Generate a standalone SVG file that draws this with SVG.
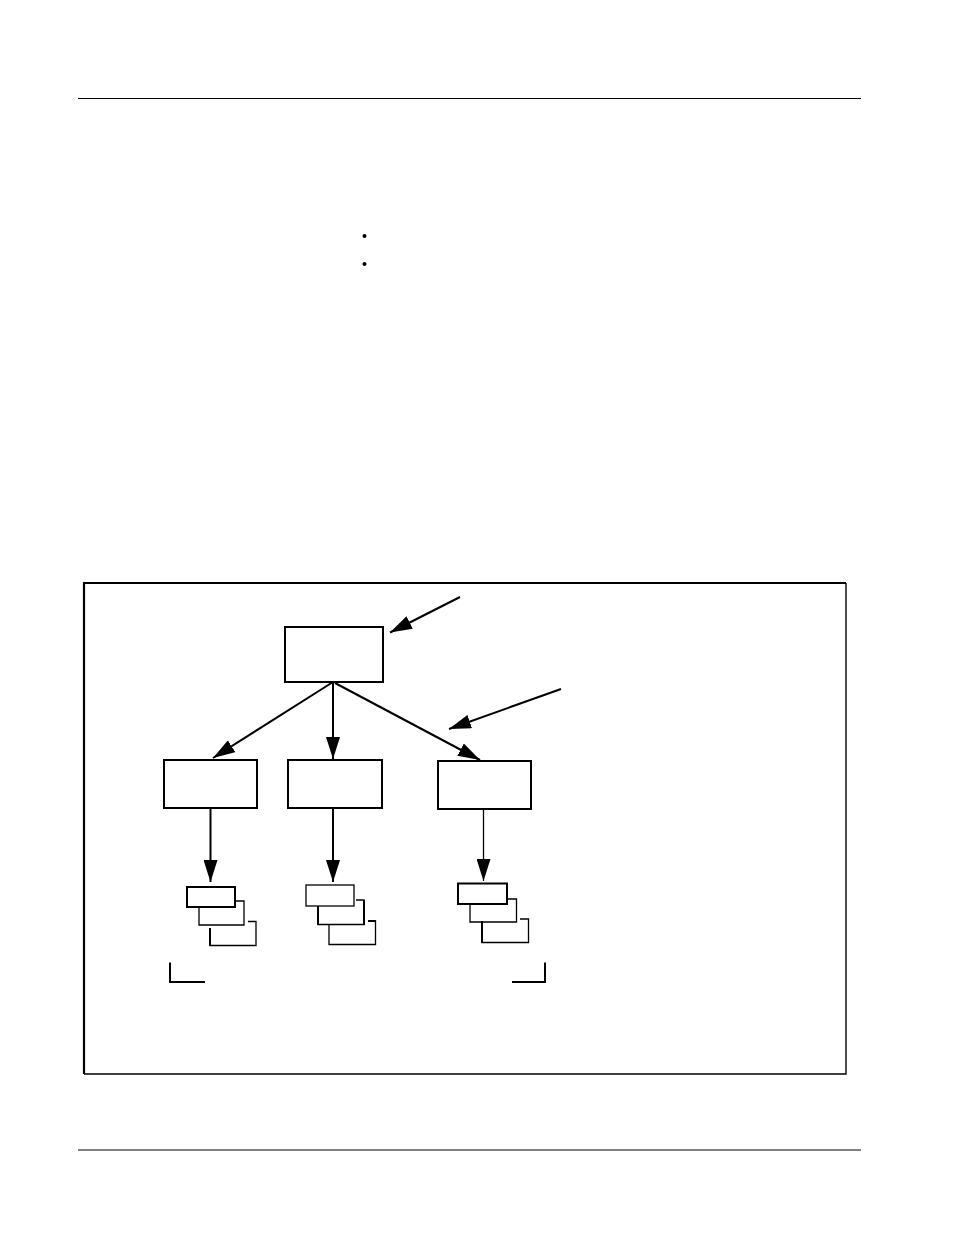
<svg xmlns="http://www.w3.org/2000/svg" width="954" height="1235" viewBox="0 0 954 1235">
<style>
.rule{stroke:#000;stroke-width:1.2;fill:none}
.box{fill:#fff;stroke:#000;stroke-width:2}
.thin{stroke:#000;stroke-width:1.3;fill:none}
.thick{stroke:#000;stroke-width:2;fill:none}
.conn{stroke:#000;stroke-width:2;fill:none}
</style>
<defs>
<marker id="ahL" markerWidth="22" markerHeight="14" refX="22" refY="7" orient="auto" markerUnits="userSpaceOnUse" viewBox="0 0 22 14">
<path d="M0,0 L22,7 L0,14 Z" fill="#000"/>
</marker>
</defs>
<g id="page">
<line class="rule" x1="78" y1="98.5" x2="861" y2="98.5"/>
<line class="rule" x1="78" y1="1150" x2="861" y2="1150"/>
<circle cx="364.5" cy="236" r="2" fill="#000"/>
<circle cx="364.5" cy="264" r="2" fill="#000"/>
</g>
<g id="frame">
<path d="M84,1074 L84,583 L846,583" stroke="#000" stroke-width="2.2" fill="none"/>
<path d="M846,583 L846,1074 L84,1074" stroke="#000" stroke-width="1.4" fill="none"/>
</g>
<g id="node-top"><rect class="box" x="285" y="627" width="98" height="55"/></g>
<g id="node-left"><rect class="box" x="164" y="760" width="93" height="48"/></g>
<g id="node-mid"><rect class="box" x="288" y="760" width="94" height="48"/></g>
<g id="node-right"><rect class="box" x="438" y="761" width="93" height="48"/></g>
<g id="stack-left">
<rect class="box" x="187" y="887" width="48" height="20"/>
<path class="thin" d="M199,907 L199,925 L244,925 L244,901 L236,901"/>
<path class="thin" d="M210,929 L210,945.5 L256,945.5 L256,921.5 L248,921.5"/>
<line class="thick" x1="210" y1="928" x2="210" y2="946"/>
</g>
<g id="stack-mid">
<rect class="thin" x="306" y="885" width="48" height="21"/>
<path class="thin" d="M318,906 L318,924.5 L364,924.5 L364,900 L356,900"/>
<line class="thick" x1="318" y1="906" x2="318" y2="925"/>
<line class="thick" x1="364" y1="900" x2="364" y2="925"/>
<path class="thin" d="M329,925 L329,944.5 L375.5,944.5 L375.5,921 L368,921"/>
<line class="thick" x1="368" y1="921" x2="376" y2="921"/>
</g>
<g id="stack-right">
<rect class="box" x="458" y="883.5" width="49" height="20.5"/>
<path class="thin" d="M470,904 L470,922 L516.5,922 L516.5,899 L507,899"/>
<path class="thin" d="M482,922 L482,942.5 L528.5,942.5 L528.5,919 L520,919"/>
<line class="thick" x1="482" y1="921" x2="482" y2="943"/>
</g>
<g id="brackets">
<path class="thick" d="M170,962.5 L170,982 L205,982"/>
<path class="thick" d="M545,962.5 L545,982 L512,982"/>
</g>
<g id="connectors">
<line class="conn" x1="333" y1="682" x2="213" y2="758" marker-end="url(#ahL)"/>
<line class="conn" x1="333" y1="682" x2="333" y2="759" marker-end="url(#ahL)"/>
<line class="conn" x1="335" y1="683" x2="480" y2="760" marker-end="url(#ahL)"/>
<line class="conn" x1="460" y1="597" x2="390" y2="632.5" marker-end="url(#ahL)"/>
<line class="conn" x1="561" y1="689" x2="449" y2="729" marker-end="url(#ahL)"/>
<line class="conn" x1="210.5" y1="808" x2="210.5" y2="882" marker-end="url(#ahL)"/>
<line class="conn" x1="333" y1="808" x2="333" y2="882" marker-end="url(#ahL)"/>
<line class="thin" x1="483.5" y1="809" x2="483.5" y2="881" marker-end="url(#ahL)"/>
</g>
</svg>
